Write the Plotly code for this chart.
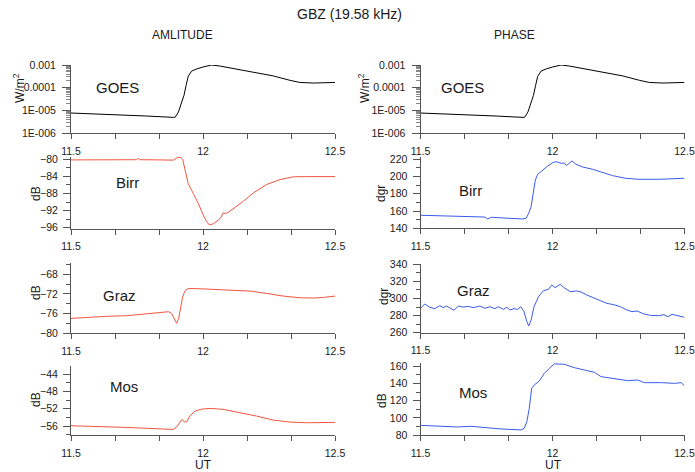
import plotly.graph_objects as go

W, H = 695, 472

# ---------------- data (UT hours) ----------------
x_label_vals = [11.5, 12.0, 12.5]
x_label_text = ["11.5", "12", "12.5"]
x_minor_vals = [11.5 + 1 / 6, 11.5 + 2 / 6, 12.0 + 1 / 6, 12.0 + 2 / 6]
goes_tick_vals = [1e-6, 1e-5, 1e-4, 1e-3]
goes_tick_text = ["1E-006", "1E-005", "0.0001", "0.001"]

goes_t = [11.5, 11.585, 11.686, 11.787, 11.888, 11.895, 11.907, 11.919, 11.928, 11.936,
          11.944, 11.957, 11.976, 12.001, 12.033, 12.064, 12.115, 12.19, 12.266, 12.33,
          12.367, 12.418, 12.5]
goes_flux = [7.6e-6, 7.1e-6, 6.5e-6, 5.6e-6, 4.9e-6, 5.0e-6, 8.5e-6, 2.0e-5, 4.6e-5, 1.26e-4,
             3.16e-4, 5.4e-4, 6.7e-4, 8.2e-4, 1.0e-3, 9.0e-4, 6.9e-4, 4.9e-4, 3.3e-4, 2.1e-4,
             1.7e-4, 1.6e-4, 1.7e-4]

birr_amp_t = [11.5, 11.61, 11.673, 11.749, 11.755, 11.761, 11.837, 11.888, 11.9, 11.913,
              11.923, 11.932, 11.944, 11.963, 11.982, 12.001, 12.014, 12.024, 12.039, 12.058,
              12.068, 12.077, 12.085, 12.096, 12.115, 12.153, 12.191, 12.241, 12.292, 12.342,
              12.393, 12.5]
birr_amp = [-80.15, -80.15, -80.1, -80.1, -79.7, -80.1, -80.15, -80.2, -79.7, -79.45,
            -80.0, -82.2, -85.7, -88.0, -90.3, -93.05, -94.6, -95.35, -95.1, -94.2,
            -93.6, -92.5, -92.7, -92.4, -91.6, -89.8, -87.85, -85.9, -84.75, -84.1,
            -84.05, -84.05]

birr_ph_t = [11.5, 11.598, 11.674, 11.743, 11.755, 11.768, 11.812, 11.85, 11.887, 11.9,
             11.91, 11.919, 11.928, 11.935, 11.944, 11.963, 11.982, 12.001, 12.013, 12.032,
             12.045, 12.053, 12.064, 12.074, 12.089, 12.114, 12.152, 12.189, 12.227, 12.277,
             12.328, 12.403, 12.453, 12.5]
birr_ph = [155.1, 154.3, 153.9, 153.1, 150.8, 152.8, 152.0, 151.6, 150.8, 151.6,
           157.4, 165.1, 182.5, 196.0, 202.6, 207.6, 212.3, 216.1, 217.3, 215.4,
           215.7, 212.7, 215.0, 218.1, 214.2, 211.1, 208.4, 204.9, 201.1, 198.0,
           196.8, 196.8, 197.6, 198.0]

graz_amp_t = [11.5, 11.559, 11.635, 11.711, 11.774, 11.837, 11.869, 11.881, 11.891, 11.9,
              11.908, 11.915, 11.923, 11.932, 11.944, 11.989, 12.052, 12.115, 12.178, 12.241,
              12.304, 12.367, 12.418, 12.456, 12.5]
graz_amp = [-76.97, -76.76, -76.56, -76.43, -76.09, -75.69, -75.62, -75.96, -76.97, -77.98,
            -76.97, -74.6, -72.58, -71.37, -70.9, -70.97, -71.1, -71.24, -71.44, -71.91,
            -72.45, -72.79, -72.85, -72.72, -72.45]

graz_ph_t = [11.5, 11.516, 11.535, 11.554, 11.573, 11.586, 11.599, 11.611, 11.627, 11.643,
             11.662, 11.681, 11.7, 11.725, 11.744, 11.763, 11.782, 11.795, 11.814, 11.827,
             11.839, 11.854, 11.867, 11.88, 11.892, 11.903, 11.91, 11.919, 11.93, 11.947,
             11.966, 11.985, 11.997, 12.01, 12.029, 12.044, 12.067, 12.092, 12.108, 12.13,
             12.156, 12.181, 12.206, 12.232, 12.257, 12.282, 12.301, 12.32, 12.346, 12.371,
             12.403, 12.422, 12.437, 12.453, 12.472, 12.5]
graz_ph = [288.5, 293.6, 289.7, 288.1, 291.6, 289.3, 291.2, 288.9, 286.1, 291.2,
           290.0, 290.8, 289.3, 291.2, 288.5, 290.4, 288.1, 290.4, 287.3, 289.7,
           286.5, 288.1, 287.3, 290.4, 284.6, 272.9, 267.8, 274.8, 290.4, 302.1,
           309.2, 310.7, 315.8, 312.7, 316.6, 312.7, 308.0, 308.8, 307.6, 304.1,
           301.0, 297.5, 294.3, 292.8, 290.4, 286.5, 284.6, 285.4, 281.9, 280.3,
           279.9, 281.1, 278.7, 281.5, 279.9, 278.0]

mos_amp_t = [11.5, 11.61, 11.711, 11.799, 11.888, 11.9, 11.913, 11.92, 11.929, 11.938,
             11.951, 11.97, 11.995, 12.027, 12.077, 12.14, 12.203, 12.266, 12.33, 12.393,
             12.5]
mos_amp = [-55.92, -56.08, -56.31, -56.54, -56.77, -56.23, -55.0, -54.46, -55.0, -55.0,
           -53.62, -52.54, -52.08, -51.92, -52.15, -52.85, -53.69, -54.62, -55.08, -55.23,
           -55.15]

mos_ph_t = [11.5, 11.577, 11.64, 11.691, 11.741, 11.805, 11.881, 11.893, 11.903, 11.912,
            11.921, 11.931, 11.95, 11.969, 11.988, 12.007, 12.045, 12.083, 12.121, 12.159,
            12.184, 12.235, 12.285, 12.323, 12.348, 12.412, 12.462, 12.487, 12.5]
mos_ph = [91.5, 90.4, 89.6, 90.4, 88.8, 87.3, 86.2, 88.1, 95.8, 111.2,
          134.2, 138.1, 142.7, 151.5, 157.3, 162.5, 162.0, 158.1, 155.4, 152.7,
          147.7, 145.8, 143.1, 143.8, 140.8, 140.8, 140.0, 140.8, 137.3]

# ---------------- styling ----------------
RED = "#F2553F"
BLUE = "#3B5BEA"
FONT = "Arial, Liberation Sans, sans-serif"
AXIS_COL = "#555555"
TXT = "#1a1a1a"


def xdom(a, b):
    return [a / W, b / W]


def ydom(top, bot):
    return [1 - bot / H, 1 - top / H]


fig = go.Figure()

panels = [
    (0, 0, goes_t, goes_flux, "black"),
    (0, 1, goes_t, goes_flux, "black"),
    (1, 0, birr_amp_t, birr_amp, RED),
    (1, 1, birr_ph_t, birr_ph, BLUE),
    (2, 0, graz_amp_t, graz_amp, RED),
    (2, 1, graz_ph_t, graz_ph, BLUE),
    (3, 0, mos_amp_t, mos_amp, RED),
    (3, 1, mos_ph_t, mos_ph, BLUE),
]

x_doms = [xdom(71, 335), xdom(420.5, 684.5)]
y_doms = {
    (0, 0): ydom(65, 133), (0, 1): ydom(65, 133),
    (1, 0): ydom(156.5, 228.5), (1, 1): ydom(156.7, 228.3),
    (2, 0): ydom(263.3, 333.3), (2, 1): ydom(264.3, 332.7),
    (3, 0): ydom(366, 435.2), (3, 1): ydom(363, 435.3),
}
y_ranges = {
    (1, 0): [-96.19, -79.35], (1, 1): [140, 223.0],
    (2, 0): [-80, -65.8], (2, 1): [260, 340],
    (3, 0): [-58.1, -42.15], (3, 1): [80, 163.5],
}

layout = {}
for r, c, t, y, col in panels:
    idx = r * 2 + c + 1
    sfx = "" if idx == 1 else str(idx)
    fig.add_trace(go.Scatter(x=t, y=y, mode="lines", line=dict(color=col, width=1),
                             xaxis="x" + sfx, yaxis="y" + sfx, showlegend=False,
                             hoverinfo="skip"))
    layout["xaxis" + sfx] = dict(
        domain=x_doms[c], anchor="y" + sfx, range=[11.5, 12.5],
        tickmode="array", tickvals=x_label_vals, ticktext=x_label_text,
        ticks="outside", ticklen=5, tickcolor=AXIS_COL, tickwidth=1,
        minor=dict(tickmode="array", tickvals=x_minor_vals, ticks="outside", ticklen=5,
                   tickcolor=AXIS_COL, tickwidth=1, showgrid=False),
        showline=True, linecolor=AXIS_COL, linewidth=1, showgrid=False, zeroline=False,
        tickfont=dict(family=FONT, size=10.5, color=TXT), automargin=False,
        ticklabelstandoff=3, ticklabeloverflow="allow",
    )
    if r == 0:
        minor_vals = [m * 10.0 ** e for e in (-6, -5, -4) for m in range(2, 10)]
        layout["yaxis" + sfx] = dict(
            domain=y_doms[(r, c)], anchor="x" + sfx, type="log", range=[-6, -3],
            tickmode="array", tickvals=goes_tick_vals, ticktext=goes_tick_text,
            ticks="outside", ticklen=8, tickcolor=AXIS_COL, tickwidth=1,
            minor=dict(tickmode="array", tickvals=minor_vals, ticks="outside", ticklen=4,
                       tickcolor="#888888", tickwidth=1, showgrid=False),
            showline=True, linecolor=AXIS_COL, linewidth=1, showgrid=False, zeroline=False,
            tickfont=dict(family=FONT, size=10.5, color=TXT), automargin=False,
            ticklabelstandoff=4, ticklabeloverflow="allow",
        )
    else:
        big = 4 if c == 0 else 20
        layout["yaxis" + sfx] = dict(
            domain=y_doms[(r, c)], anchor="x" + sfx, range=y_ranges[(r, c)],
            tickmode="linear", tick0=0, dtick=big,
            ticks="outside", ticklen=7, tickcolor=AXIS_COL, tickwidth=1,
            minor=dict(tickmode="linear", tick0=0, dtick=big / 2, ticks="outside", ticklen=4,
                       tickcolor=AXIS_COL, tickwidth=1, showgrid=False),
            showline=True, linecolor=AXIS_COL, linewidth=1, showgrid=False, zeroline=False,
            tickfont=dict(family=FONT, size=10.5, color=TXT), automargin=False,
            ticklabelstandoff=3, ticklabeloverflow="allow",
        )

annotations = []


def ann(text, x, y, size, angle=0):
    annotations.append(dict(text=text, x=x / W, y=1 - y / H,
                            xref="paper", yref="paper",
                            showarrow=False, xanchor="center", yanchor="middle",
                            textangle=angle, font=dict(family=FONT, size=size, color=TXT)))


ann("GBZ (19.58 kHz)", 349, 14, 14)
ann("AMLITUDE", 182, 35, 12)
ann("PHASE", 514, 35, 12)
ann("GOES", 117, 87, 15)
ann("GOES", 462, 87, 15)
ann("Birr", 127, 183, 15)
ann("Birr", 470, 191, 15)
ann("Graz", 119, 295, 15)
ann("Graz", 473, 290, 15)
ann("Mos", 124, 386, 15)
ann("Mos", 473, 392, 15)
ann("W/m<sup>2</sup>", 19, 88, 12, -90)
ann("W/m<sup>2</sup>", 364, 88, 12, -90)
ann("dB", 36, 194, 12, -90)
ann("dB", 36, 293, 12, -90)
ann("dB", 36, 400, 12, -90)
ann("dgr", 381, 193, 12, -90)
ann("dgr", 384, 297, 12, -90)
ann("dB", 382, 400, 12, -90)
ann("UT", 203, 465, 12)
ann("UT", 553, 465, 12)

fig.update_layout(
    width=W, height=H, autosize=False,
    margin=dict(l=0, r=0, t=0, b=0),
    paper_bgcolor="white", plot_bgcolor="white",
    annotations=annotations,
    **layout,
)

# place the figure at the page's top-left corner (no default body margin / scrollbars)
fig.write_html("out.html",
               config={"displayModeBar": False},
               post_script="document.body.style.margin='0';"
                           "document.body.style.overflow='hidden';")
